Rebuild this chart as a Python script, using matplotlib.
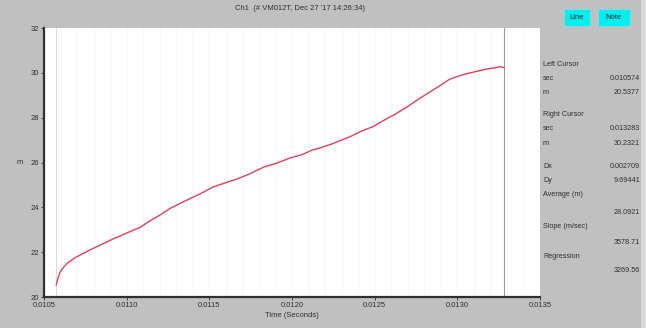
import matplotlib
matplotlib.use("Agg")
import matplotlib.pyplot as plt
from matplotlib.patches import FancyBboxPatch
import numpy as np

# Position trace of channel 1
time_s = [0.010574, 0.010585, 0.010597, 0.010615, 0.010640, 0.010687, 0.010740,
          0.010778, 0.010850, 0.010920, 0.010960, 0.011030, 0.011080, 0.011141,
          0.011200, 0.011262, 0.011330, 0.011400, 0.011444, 0.011520, 0.011600,
          0.011680, 0.011746, 0.011830, 0.011900, 0.011988, 0.012060, 0.012120,
          0.012169, 0.012250, 0.012300, 0.012351, 0.012420, 0.012490, 0.012560,
          0.012623, 0.012700, 0.012770, 0.012835, 0.012900, 0.012950, 0.012986,
          0.013050, 0.013137, 0.013200, 0.013228, 0.013260, 0.013283]
position_m = [20.54, 20.85, 21.10, 21.30, 21.50, 21.75, 21.95,
              22.10, 22.35, 22.60, 22.72, 22.95, 23.10, 23.40,
              23.65, 23.95, 24.20, 24.45, 24.60, 24.90, 25.10,
              25.30, 25.50, 25.80, 25.95, 26.20, 26.35, 26.55,
              26.65, 26.85, 27.00, 27.15, 27.40, 27.60, 27.90,
              28.15, 28.50, 28.85, 29.15, 29.45, 29.70, 29.80,
              29.95, 30.10, 30.20, 30.22, 30.28, 30.23]

x_ticks = [0.0105, 0.0110, 0.0115, 0.0120, 0.0125, 0.0130, 0.0135]
x_tick_labels = ["0.0105", "0.0110", "0.0115", "0.0120", "0.0125", "0.0130", "0.0135"]
y_ticks = [20, 22, 24, 26, 28, 30, 32]
y_tick_labels = ["20", "22", "24", "26", "28", "30", "32"]

left_cursor = 0.010574
right_cursor = 0.013283

panel_labels = ["Left Cursor", "sec", "m", "Right Cursor", "sec", "m", "Dx", "Dy",
                "Average (m)", "Slope (m/sec)", "Regression"]
panel_label_y = [65, 79, 92, 115, 129, 144, 167, 180, 195, 227, 256]
panel_values = ["0.010574", "20.5377", "0.013283", "30.2321", "0.002709", "9.69441",
                "28.0921", "3578.71", "3269.56"]
panel_value_y = [79, 92, 129, 144, 167, 180, 212, 242, 271]

title = "Ch1  (# VM012T, Dec 27 '17 14:26:34)"

W, H = 646, 328
BG = "#c0c0c0"
plt.rcParams['font.family'] = ['Liberation Sans', 'DejaVu Sans']

fig = plt.figure(figsize=(W / 100, H / 100), dpi=100, facecolor=BG)

ax = fig.add_axes([44 / W, 1 - 297 / H, (540 - 44) / W, (297 - 28) / H])
ax.set_facecolor("white")
ax.set_xlim(0.0105, 0.0135)
ax.set_ylim(20, 32)

# faint vertical grid
for gx in np.arange(0.0105, 0.01351, 0.0001):
    ax.axvline(gx, color="#f8f8f8", lw=0.8, zorder=0)

ax.axvline(left_cursor, color="#dcdcdc", lw=0.8, zorder=1)
ax.axvline(right_cursor, color="#9a9a9a", lw=0.8, zorder=1)

ax.plot(time_s, position_m, color="#e0405a", lw=1.0, zorder=3)

for side in ("top", "right"):
    ax.spines[side].set_visible(False)
ax.spines["left"].set_color("#303030")
ax.spines["left"].set_linewidth(1.6)
ax.spines["bottom"].set_color("#303030")
ax.spines["bottom"].set_linewidth(1.6)

ax.set_xticks(x_ticks)
ax.set_xticklabels(x_tick_labels)
ax.set_yticks(y_ticks)
ax.set_yticklabels(y_tick_labels)
ax.tick_params(axis="both", labelsize=5.5, colors="#303030", length=2, width=0.6, pad=1.5)
ax.set_xlabel("Time (Seconds)", fontsize=5.5, color="#303030", labelpad=2)
ax.set_ylabel("m", fontsize=5.5, color="#303030", rotation=0, labelpad=8, va="center")

fig.text(300 / W, 1 - 9 / H, title, ha="center", va="center", fontsize=5.5, color="#303030")

# buttons
for bx, bw, label in [(564, 26, "Line"), (598, 32, "Note")]:
    fig.patches.append(FancyBboxPatch((bx / W, 1 - 26 / H), bw / W, 17 / H,
                                      boxstyle="square,pad=0", transform=fig.transFigure,
                                      facecolor="#00f0f0", edgecolor="#80e0e0", lw=0.6))
    fig.text((bx + bw / 2) / W, 1 - 17.5 / H, label, ha="center", va="center",
             fontsize=5.5, color="#202020")

for lab, yy in zip(panel_labels, panel_label_y):
    fig.text(543 / W, 1 - yy / H, lab, ha="left", va="center", fontsize=5.2, color="#303030")
for val, yy in zip(panel_values, panel_value_y):
    fig.text(640 / W, 1 - yy / H, val, ha="right", va="center", fontsize=5.2, color="#303030")

# right border strip
fig.patches.append(plt.Rectangle((641 / W, 0), 5 / W, 1, transform=fig.transFigure,
                                 facecolor="#dadada", edgecolor="none"))

fig.savefig("out.png", dpi=100, facecolor=BG)
